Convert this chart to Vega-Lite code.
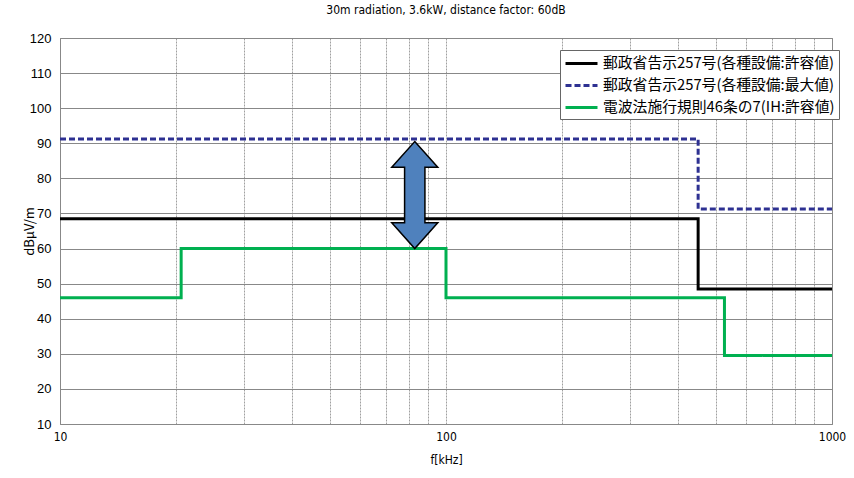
{
  "$schema": "https://vega.github.io/schema/vega-lite/v6.json",
  "width": 772,
  "height": 386,
  "autosize": "none",
  "padding": {"left": 60, "top": 38, "right": 22, "bottom": 54},
  "background": "white",
  "config": {
    "view": {"stroke": "#888888", "strokeWidth": 1},
    "font": "Liberation Sans"
  },
  "title": {
    "text": "30m radiation, 3.6kW, distance factor: 60dB",
    "font": "DejaVu Sans Condensed, DejaVu Sans",
    "fontSize": 12,
    "fontWeight": "normal",
    "color": "#000000",
    "offset": 15,
    "anchor": "middle"
  },
  "datasets": {
    "lines": [
      {"series": "郵政省告示257号(各種設備:許容値)", "f": 10, "db": 68.5},
      {"series": "郵政省告示257号(各種設備:許容値)", "f": 450, "db": 48.5},
      {"series": "郵政省告示257号(各種設備:許容値)", "f": 1000, "db": 48.5},
      {"series": "郵政省告示257号(各種設備:最大値)", "f": 10, "db": 91.25},
      {"series": "郵政省告示257号(各種設備:最大値)", "f": 450, "db": 71.25},
      {"series": "郵政省告示257号(各種設備:最大値)", "f": 1000, "db": 71.25},
      {"series": "電波法施行規則46条の7(IH:許容値)", "f": 10, "db": 46},
      {"series": "電波法施行規則46条の7(IH:許容値)", "f": 20.6, "db": 60},
      {"series": "電波法施行規則46条の7(IH:許容値)", "f": 100, "db": 46},
      {"series": "電波法施行規則46条の7(IH:許容値)", "f": 526.5, "db": 29.5},
      {"series": "電波法施行規則46条の7(IH:許容値)", "f": 1000, "db": 29.5}
    ],
    "arrow": [{"f": 83, "db": 75.25}]
  },
  "encoding": {
    "x": {
      "field": "f", "type": "quantitative",
      "scale": {"type": "log", "domain": [10, 1000], "nice": false},
      "axis": {
        "title": "f[kHz]",
        "titleFont": "DejaVu Sans Condensed, DejaVu Sans",
        "titleFontSize": 12,
        "titleFontWeight": "normal",
        "titleColor": "#000",
        "titlePadding": 12,
        "values": [10, 20, 30, 40, 50, 60, 70, 80, 90, 100, 200, 300, 400, 500, 600, 700, 800, 900, 1000],
        "labelExpr": "datum.value == 10 || datum.value == 100 || datum.value == 1000 ? datum.value : ''",
        "labelFont": "DejaVu Sans Condensed, DejaVu Sans",
        "labelFontSize": 12,
        "labelColor": "#000",
        "labelPadding": 7,
        "labelFlush": false,
        "labelOverlap": false,
        "ticks": false,
        "domain": false,
        "grid": true,
        "gridColor": "#888888",
        "gridWidth": 0.8,
        "gridDash": [2, 1]
      }
    },
    "y": {
      "field": "db", "type": "quantitative",
      "scale": {"domain": [10, 120], "nice": false},
      "axis": {
        "title": "dBμV/m",
        "titleFont": "Noto Sans CJK JP",
        "titleFontSize": 13,
        "titleFontWeight": "normal",
        "titleColor": "#000",
        "titleX": -31,
        "titleBaseline": "middle",
        "values": [10, 20, 30, 40, 50, 60, 70, 80, 90, 100, 110, 120],
        "labelFont": "Liberation Sans",
        "labelFontSize": 13,
        "labelColor": "#000",
        "labelPadding": 9,
        "labelFlush": false,
        "labelOverlap": false,
        "ticks": false,
        "domain": false,
        "grid": true,
        "gridColor": "#888888",
        "gridWidth": 1
      }
    }
  },
  "layer": [
    {
      "data": {"name": "lines"},
      "mark": {"type": "line", "interpolate": "step-after", "strokeWidth": 3, "clip": false},
      "encoding": {
        "color": {
          "field": "series", "type": "nominal",
          "sort": ["郵政省告示257号(各種設備:許容値)", "郵政省告示257号(各種設備:最大値)", "電波法施行規則46条の7(IH:許容値)"],
          "scale": {
            "domain": ["郵政省告示257号(各種設備:許容値)", "郵政省告示257号(各種設備:最大値)", "電波法施行規則46条の7(IH:許容値)"],
            "range": ["#000000", "#2E3192", "#00B050"]
          },
          "legend": {
            "title": null,
            "orient": "none",
            "legendX": 500,
            "legendY": 12,
            "padding": 4,
            "strokeColor": "#666666",
            "fillColor": "white",
            "symbolType": "M-1,0 L3,0",
            "symbolSize": 256,
            "symbolStrokeWidth": 3,
            "labelFont": "Noto Sans CJK JP",
            "labelFontSize": 14.8,
            "labelColor": "#000",
            "labelLimit": 400,
            "rowPadding": 5,
            "labelOffset": 20
          }
        },
        "strokeDash": {
          "field": "series", "type": "nominal",
          "sort": ["郵政省告示257号(各種設備:許容値)", "郵政省告示257号(各種設備:最大値)", "電波法施行規則46条の7(IH:許容値)"],
          "scale": {
            "domain": ["郵政省告示257号(各種設備:許容値)", "郵政省告示257号(各種設備:最大値)", "電波法施行規則46条の7(IH:許容値)"],
            "range": [[1, 0], [6, 3], [1, 0]]
          },
          "legend": {
            "title": null,
            "orient": "none",
            "legendX": 500,
            "legendY": 12,
            "symbolType": "M-1,0 L3,0"
          }
        }
      }
    },
    {
      "data": {"name": "arrow"},
      "mark": {
        "type": "point",
        "filled": true,
        "shape": "M0,-1 L0.43,-0.52 L0.19,-0.52 L0.19,0.52 L0.43,0.52 L0,1 L-0.43,0.52 L-0.19,0.52 L-0.19,-0.52 L-0.43,-0.52 Z",
        "size": 11449,
        "fill": "#4F81BD",
        "stroke": "#000000",
        "strokeWidth": 1.5,
        "opacity": 1
      }
    }
  ]
}
